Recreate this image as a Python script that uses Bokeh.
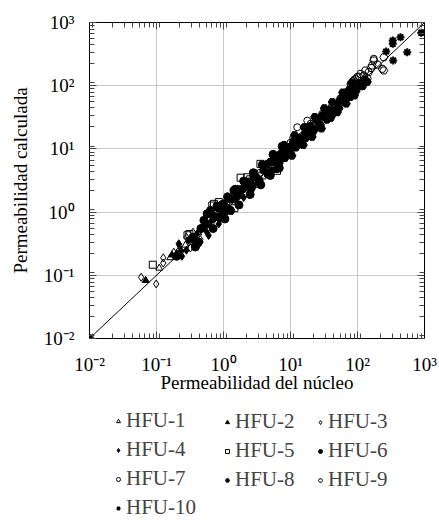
from bokeh.plotting import figure
from bokeh.layouts import column
from bokeh.models import Range1d, LogAxis, LogTicker, CustomJSTickFormatter, Legend, LegendItem
from bokeh.embed import file_html
from bokeh.resources import INLINE

# ---- data ----
hfu1_x = [0.11, 0.16, 0.21, 0.27, 0.33, 0.42]
hfu1_y = [0.13, 0.19, 0.24, 0.30, 0.38, 0.47]

hfu2_x = [0.069, 0.17, 0.23, 0.31, 0.38, 0.47, 0.58]
hfu2_y = [0.083, 0.21, 0.25, 0.36, 0.41, 0.55, 0.62]

hfu3_x = [0.059, 0.099, 0.126, 0.126, 0.181, 0.22, 0.28, 0.36, 0.42, 0.35, 0.50, 0.60, 0.72, 0.90, 0.45, 1.1, 0.32]
hfu3_y = [0.093, 0.073, 0.189, 0.156, 0.232, 0.30, 0.40, 0.316, 0.30, 0.48, 0.62, 0.52, 0.76, 1.05, 0.37, 1.25, 0.27]

hfu4_x = [0.20, 0.215, 0.24, 0.30, 0.36, 0.40, 0.454, 0.50, 0.55, 0.60, 0.65, 0.72, 0.85, 0.92, 1.05, 1.2, 1.35, 1.6, 1.8, 2.0, 2.4, 2.8, 3.2, 0.28]
hfu4_y = [0.22, 0.316, 0.20, 0.36, 0.35, 0.45, 0.334, 0.60, 0.50, 0.427, 0.72, 0.80, 0.65, 0.95, 0.82, 1.15, 1.05, 1.4, 2.1, 1.7, 1.9, 2.6, 2.9, 0.25]

hfu5_x = [0.088, 0.29, 0.31, 0.68, 0.72, 0.85, 1.1, 1.25, 1.45, 1.8, 2.0, 2.26, 2.5, 2.8, 3.2, 3.56, 3.8, 4.5, 5.3, 6.3, 1.6, 3.0]
hfu5_y = [0.147, 0.43, 0.45, 1.27, 1.35, 1.44, 1.30, 1.65, 1.15, 3.5, 2.0, 3.56, 3.3, 4.0, 2.8, 5.8, 3.8, 4.5, 5.8, 4.5, 2.3, 3.1]

hfu6_x = [0.01, 0.20, 0.35, 0.38, 0.42, 0.51, 0.57, 0.64, 0.75, 0.85, 0.95, 1.0, 1.1, 1.27, 1.43, 1.6, 1.9, 2.2, 2.6, 3.0, 3.4, 4.0, 4.6, 5.2, 6.0, 7.0, 8.0, 9.5, 11.0, 0.46, 0.9, 1.3, 2.4,
          0.6, 0.8, 1.15, 1.5, 2.0, 2.8, 3.8, 5.5, 7.5, 0.7, 1.05, 1.7, 2.5, 3.6, 5.0, 6.8]
hfu6_y = [0.01, 0.20, 0.40, 0.28, 0.34, 0.74, 0.94, 1.06, 0.85, 1.15, 1.30, 1.35, 1.05, 1.06, 2.2, 1.8, 2.3, 2.7, 2.4, 3.6, 3.2, 4.6, 4.0, 6.2, 6.5, 8.0, 7.5, 10.5, 12.0, 0.55, 0.80, 1.6, 3.0,
          0.95, 1.25, 1.75, 2.3, 3.1, 4.2, 5.6, 8.2, 11.0, 0.55, 0.78, 1.3, 1.9, 2.7, 3.8, 5.0]

hfu7_x = [3.5, 5.0, 6.5, 8.0, 10.0, 12.6, 15.0, 17.8, 22.0, 27.0, 33.0, 45.0, 60.0, 78.7, 93.0, 175.0, 9.0, 14.0, 11.0, 20.0, 85.0, 105.0]
hfu7_y = [4.2, 6.3, 6.0, 9.5, 12.5, 22.0, 16.0, 28.0, 24.0, 30.0, 38.0, 50.0, 68.0, 107.0, 128.0, 267.0, 8.5, 13.0, 15.0, 25.0, 118.0, 140.0]

hfu8_x = [4.5, 5.2, 6.0, 6.8, 7.5, 8.3, 9.0, 10.0, 11.0, 12.0, 13.5, 15.0, 16.5, 18.0, 20.0, 22.0, 25.0, 28.0, 31.0, 35.0, 39.0, 43.0, 48.0, 53.0, 58.0, 64.0, 70.0, 78.0, 86.0, 95.0, 105.0, 115.0, 130.0, 7.0, 9.5, 14.0, 19.0, 26.0, 37.0, 55.0, 75.0, 12.5, 17.0, 30.0, 45.0,
          5.5, 8.0, 11.5, 16.0, 23.0, 32.0, 42.0, 60.0, 82.0, 6.2, 10.5, 15.5, 21.0, 29.0, 40.0, 50.0, 68.0, 90.0, 120.0, 140.0]
hfu8_y = [5.8, 4.5, 7.2, 6.0, 9.0, 7.2, 10.5, 8.5, 13.0, 10.5, 15.0, 13.0, 18.0, 16.0, 23.0, 19.0, 28.0, 24.0, 33.0, 29.0, 42.0, 36.0, 52.0, 44.0, 62.0, 55.0, 75.0, 66.0, 92.0, 82.0, 110.0, 98.0, 125.0, 8.0, 9.0, 12.0, 21.0, 22.0, 40.0, 58.0, 85.0, 14.0, 15.0, 34.0, 40.0,
          8.0, 11.5, 16.5, 22.0, 32.0, 44.0, 55.0, 78.0, 110.0, 4.8, 7.8, 11.5, 15.5, 21.0, 31.0, 38.0, 52.0, 70.0, 100.0, 115.0]

hfu9_x = [30.0, 42.0, 55.0, 70.0, 88.0, 99.0, 111.0, 124.0, 131.0, 147.0, 165.0, 175.0, 234.0, 247.0, 247.0, 120.0, 200.0, 65.0, 80.0, 95.0, 140.0, 160.0]
hfu9_y = [36.0, 48.0, 62.0, 80.0, 121.0, 136.0, 154.0, 145.0, 174.0, 164.0, 209.0, 251.0, 185.0, 174.0, 282.0, 100.0, 215.0, 72.0, 98.0, 105.0, 130.0, 190.0]

hfu10_x = [268.0, 336.0, 336.0, 341.0, 438.0, 552.0, 893.0]
hfu10_y = [347.0, 519.0, 460.0, 251.0, 585.0, 339.0, 687.0]

line_x = [0.01, 1000]
line_y = [0.01, 1000]

labels = ["HFU-1", "HFU-2", "HFU-3", "HFU-4", "HFU-5", "HFU-6", "HFU-7", "HFU-8", "HFU-9", "HFU-10"]

FONT = "Liberation Serif"

p = figure(x_axis_type="log", y_axis_type="log",
           x_range=Range1d(0.01, 1000), y_range=Range1d(0.01, 1000),
           width=439, height=400,
           min_border_left=89, min_border_right=15, min_border_top=22, min_border_bottom=62,
           output_backend="svg", toolbar_location=None)

fmt_code = """
const e = Math.round(Math.log10(tick));
const m = {"-":"\\u207B","0":"\\u2070","1":"\\u00B9","2":"\\u00B2","3":"\\u00B3"};
return "10" + String(e).split("").map(c => m[c]).join("");
"""

for ax in (p.xaxis[0], p.yaxis[0]):
    ax.ticker = LogTicker(num_minor_ticks=9)
    ax.formatter = CustomJSTickFormatter(code=fmt_code)
    ax.major_label_text_font = FONT
    ax.major_label_text_font_size = "19px"
    ax.major_label_text_color = "black"
    ax.axis_label_text_font = FONT
    ax.axis_label_text_font_size = "19px"
    ax.axis_label_text_font_style = "normal"
    ax.axis_label_text_color = "black"
    ax.major_tick_in = 7
    ax.major_tick_out = 0
    ax.minor_tick_in = 5
    ax.minor_tick_out = 0
    ax.axis_line_color = "black"
    ax.major_tick_line_color = "#444444"
    ax.minor_tick_line_color = "#444444"

p.xaxis.axis_label = "Permeabilidad del núcleo"
p.yaxis.axis_label = "Permeabilidad calculada"
p.xaxis.major_label_standoff = 15
p.yaxis.major_label_standoff = 15
p.xaxis.axis_label_standoff = -6
p.yaxis.axis_label_standoff = 10

for loc in ("above", "right"):
    a = LogAxis(ticker=LogTicker(num_minor_ticks=9),
                formatter=CustomJSTickFormatter(code="return ' ';"))
    a.major_label_text_font_size = "2px"
    a.major_label_text_alpha = 0
    a.major_label_standoff = 0
    a.major_tick_in = 7
    a.major_tick_out = 0
    a.minor_tick_in = 5
    a.minor_tick_out = 0
    a.axis_line_color = "black"
    a.major_tick_line_color = "#444444"
    a.minor_tick_line_color = "#444444"
    p.add_layout(a, loc)

p.grid.grid_line_color = "#c8c8c8"
p.grid.grid_line_width = 1
p.outline_line_color = "black"

p.line(line_x, line_y, line_color="black", line_width=1)

specs = [
    (hfu1_x, hfu1_y, "triangle", False, 7, 1),
    (hfu2_x, hfu2_y, "triangle", True, 7, 1),
    (hfu3_x, hfu3_y, "diamond", False, 8, 1),
    (hfu4_x, hfu4_y, "diamond", True, 8, 1),
    (hfu5_x, hfu5_y, "square", False, 7, 1),
    (hfu6_x, hfu6_y, "circle", True, 8, 1),
    (hfu7_x, hfu7_y, "circle", False, 7, 1),
    (hfu8_x, hfu8_y, "hex", True, 8, 1),
    (hfu9_x, hfu9_y, "hex", False, 8, 1),
    (hfu10_x, hfu10_y, "asterisk", False, 8, 2),
]

for (xs, ys, marker, filled, size, lw) in specs:
    p.scatter(xs, ys, marker=marker, size=size, line_color="black", line_width=lw,
              fill_color="black" if filled else None)

# ---- legend panel (below the plot), three columns, row-major order ----
q = figure(width=439, height=125, x_range=Range1d(0, 1), y_range=Range1d(0, 1),
           min_border=0, output_backend="svg", toolbar_location=None)
q.axis.visible = False
q.grid.visible = False
q.outline_line_color = None

# swatch renderers for the legend: one point each, placed outside the visible range
swatches = []
for (xs, ys, marker, filled, size, lw) in specs:
    r = q.scatter([-5], [-5], marker=marker, size=size - 2, line_color="black",
                  line_width=1 if lw == 1 else 1.5,
                  fill_color="black" if filled else None)
    swatches.append(r)

col_x = [24, 133, 226]   # relative to the aligned frame left edge (x = 89)
for c in range(3):
    idx = list(range(c, 10, 3))
    its = [LegendItem(label=labels[i], renderers=[swatches[i]]) for i in idx]
    n = len(idx)
    h = n * 24 + (n - 1) * 4
    lg = Legend(items=its, orientation="vertical",
                label_text_font=FONT, label_text_font_size="21px",
                glyph_width=10, glyph_height=24, label_height=24, label_standoff=3,
                spacing=4, padding=0, margin=0,
                border_line_alpha=0, background_fill_alpha=0,
                location=(col_x[c], 125 - 12 - h))
    q.add_layout(lg, "center")

open("out.html", "w").write(file_html(column(p, q, spacing=0), INLINE))
